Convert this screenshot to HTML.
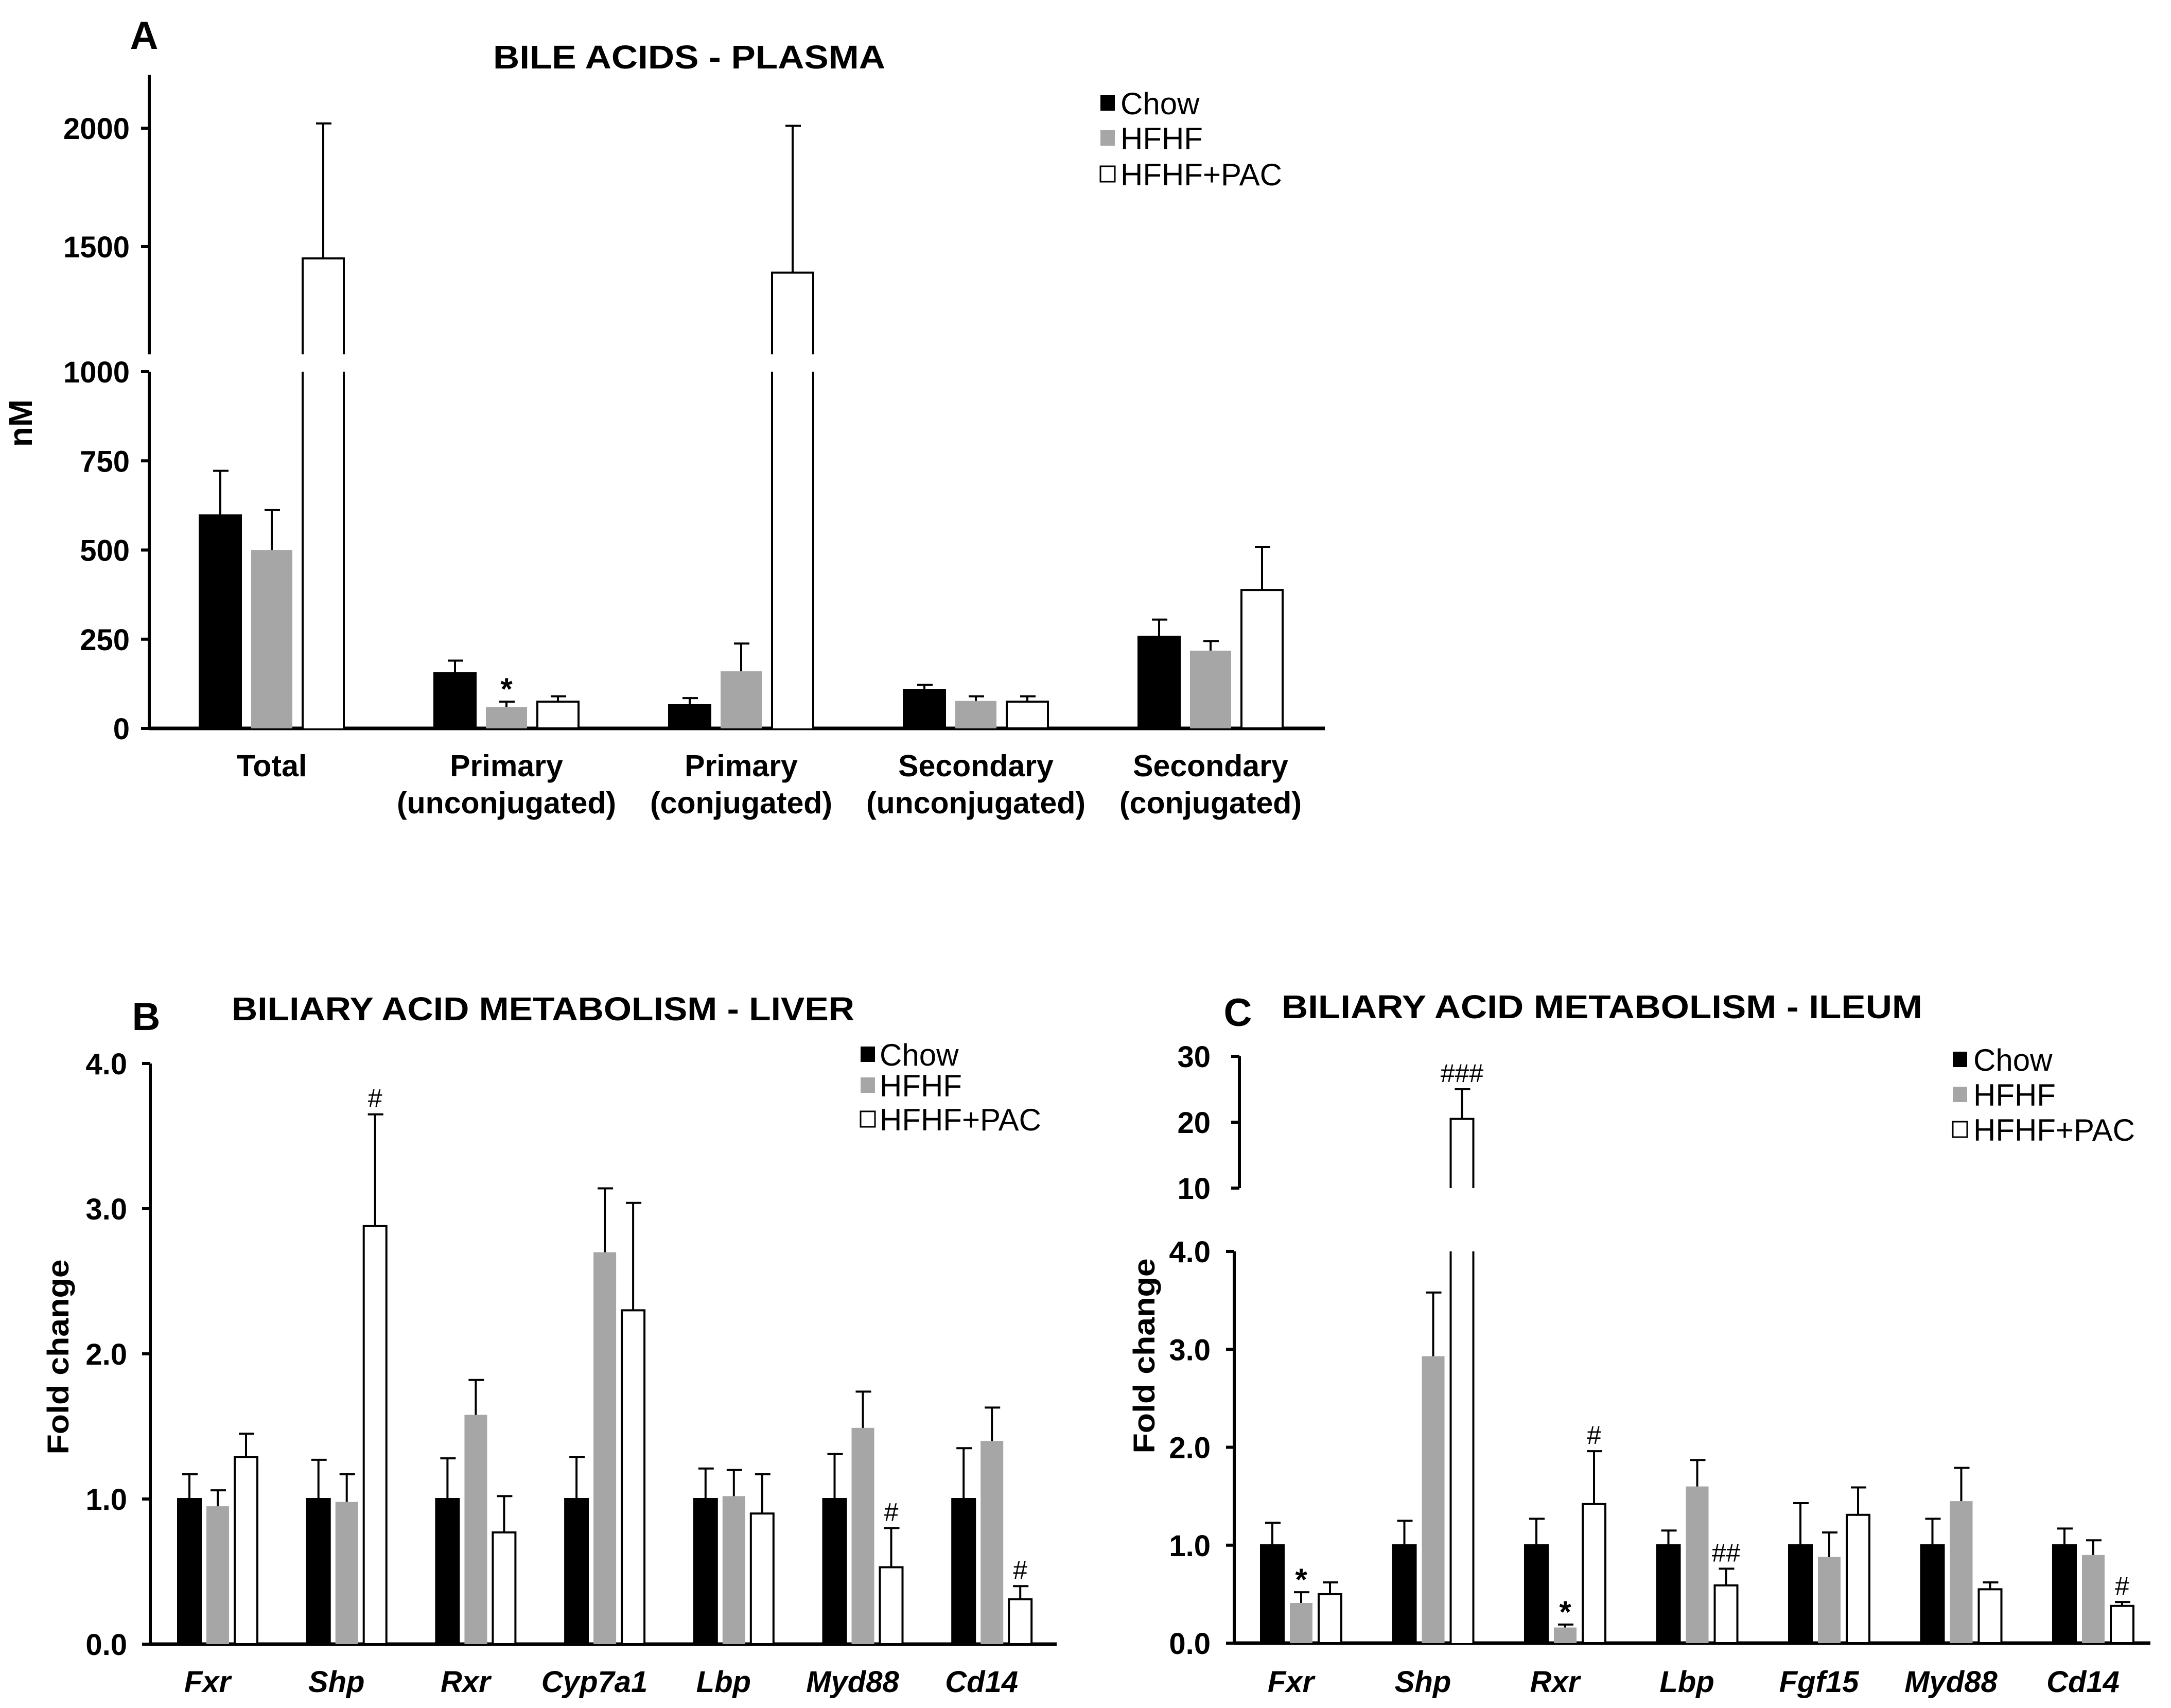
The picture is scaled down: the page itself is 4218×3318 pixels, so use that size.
<!DOCTYPE html>
<html><head><meta charset="utf-8"><style>
html,body{margin:0;padding:0;background:#fff;}
svg{display:block;font-family:"Liberation Sans",Arial,sans-serif;}
</style></head><body>
<svg id="fig" xmlns="http://www.w3.org/2000/svg" width="4218" height="3318" viewBox="0 0 4218 3318"></svg>
<script>
// ---------- Panel A data ----------
const catsA = [["Total"],["Primary","(unconjugated)"],["Primary","(conjugated)"],["Secondary","(unconjugated)"],["Secondary","(conjugated)"]];
const chowA = [597,155,65,108,257];
const chowErrA = [722,190,85,122,305];
const hfhfA = [500,60,160,77,218];
const hfhfErrA = [612,75,238,90,245];
const pacA = [1450,75,1390,75,388];
const pacErrA = [2020,90,2010,90,508];
const ticksALow = [0,250,500,750,1000];
const ticksAHigh = [1500,2000];
const sigA = [{g:1,s:1,t:"*"}];
// ---------- Panel B data ----------
const catsB = ["Fxr","Shp","Rxr","Cyp7a1","Lbp","Myd88","Cd14"];
const chowB = [1,1,1,1,1,1,1];
const chowErrB = [1.17,1.27,1.28,1.29,1.21,1.31,1.35];
const hfhfB = [0.95,0.98,1.58,2.70,1.02,1.49,1.40];
const hfhfErrB = [1.06,1.17,1.82,3.14,1.20,1.74,1.63];
const pacB = [1.29,2.88,0.77,2.30,0.90,0.53,0.31];
const pacErrB = [1.45,3.65,1.02,3.04,1.17,0.80,0.40];
const ticksB = ["0.0","1.0","2.0","3.0","4.0"];
const sigB = [{g:1,s:2,t:"#"},{g:5,s:2,t:"#"},{g:6,s:2,t:"#"}];
// ---------- Panel C data ----------
const catsC = ["Fxr","Shp","Rxr","Lbp","Fgf15","Myd88","Cd14"];
const chowC = [1,1,1,1,1,1,1];
const chowErrC = [1.23,1.25,1.27,1.15,1.43,1.27,1.17];
const hfhfC = [0.41,2.93,0.16,1.60,0.88,1.45,0.90];
const hfhfErrC = [0.52,3.58,0.19,1.87,1.13,1.79,1.05];
const pacC = [0.50,20.5,1.42,0.59,1.31,0.55,0.38];
const pacErrC = [0.62,25,1.96,0.76,1.59,0.62,0.42];
const ticksCLow = ["0.0","1.0","2.0","3.0","4.0"];
const ticksCHigh = [10,20,30];
const sigC = [{g:0,s:1,t:"*"},{g:2,s:1,t:"*"},{g:1,s:2,t:"###"},{g:2,s:2,t:"#"},{g:3,s:2,t:"##"},{g:6,s:2,t:"#"}];
const seriesNames = ["Chow","HFHF","HFHF+PAC"];

const NS="http://www.w3.org/2000/svg";
const svg=document.getElementById('fig');
function mk(tag,attrs,parent,text){
  const e=document.createElementNS(NS,tag);
  for(const k in attrs)e.setAttribute(k,attrs[k]);
  if(text!==undefined)e.textContent=text;
  (parent||svg).appendChild(e);return e;
}
const fills=["#000000","#a6a6a6","#ffffff"];

function drawPanel(P){
  const g=mk('g',{});
  
  
  let t=mk('text',{x:P.letterX,y:P.letterY,'font-size':76,'font-weight':'bold','text-anchor':'middle'},g,P.letter);
  
  t=mk('text',{x:P.titleX,y:P.titleY,'font-size':64,'font-weight':'bold',textLength:P.titleLen,lengthAdjust:'spacingAndGlyphs'},g,P.title);
  
  t=mk('text',{x:0,y:0,'font-size':P.ylabSize,'font-weight':'bold','text-anchor':'middle',transform:`translate(${P.ylabX},${P.ylabY}) rotate(-90)`},g,P.ylab);
  if(P.ylabLen){t.setAttribute('textLength',P.ylabLen);t.setAttribute('lengthAdjust','spacingAndGlyphs');}
  
  const ax=mk('g',{stroke:'#000','stroke-width':6,fill:'none'},g);
  
  mk('line',{x1:P.axisX,y1:P.y(P.lowTop),x2:P.axisX,y2:P.y0},ax);
  P.lowTicks.forEach(v=>{
    const yy=P.y(+v);
    mk('line',{x1:P.axisX-16,y1:yy,x2:P.axisX,y2:yy},ax);
    const tl=mk('text',{x:P.tickLabelX,y:yy+21,'font-size':58,'font-weight':'bold','text-anchor':'end',stroke:'none',fill:'#000'},g,String(v));
    
  });
  if(P.highTicks){
    mk('line',{x1:P.axisXU,y1:P.yU(P.highTop),x2:P.axisXU,y2:P.yU(P.highBottom)},ax);
    P.highTicks.forEach(v=>{
      const yy=P.yU(v);
      mk('line',{x1:P.axisXU-16,y1:yy,x2:P.axisXU,y2:yy},ax);
      const tl=mk('text',{x:P.tickLabelX,y:yy+21,'font-size':58,'font-weight':'bold','text-anchor':'end',stroke:'none',fill:'#000'},g,String(v));
      
    });
  }
  const xa=mk('line',{x1:P.axisX,y1:P.y0,x2:P.axisEnd,y2:P.y0,stroke:'#000','stroke-width':7},g);
  
  const series=[P.s0,P.s1,P.s2], errs=[P.e0,P.e1,P.e2];
  const topOf={};
  P.cats.forEach((c,i)=>{
    const cx=P.gx(i);
    series.forEach((arr,s)=>{
      const v=arr[i], ev=errs[s][i];
      const bx=cx+(s-1)*P.pitch-P.bw/2;
      const bg=mk('g',{},g);
      
      
      const sw=s===1?0:4;
      const broken=P.yU && v>P.breakVal;
      let ytop;
      if(!broken){
        ytop=P.y(v);
        mk('rect',{x:bx,y:ytop,width:P.bw,height:P.y0-ytop,fill:fills[s],stroke:s===1?'none':'#000','stroke-width':sw},bg);
      } else {
        const yl=P.y(P.lowTop);
        mk('rect',{x:bx,y:yl,width:P.bw,height:P.y0-yl,fill:'#fff',stroke:'none'},bg);
        mk('path',{d:`M${bx},${P.y0}V${yl}M${bx+P.bw},${P.y0}V${yl}`,stroke:'#000','stroke-width':4,fill:'none'},bg);
        ytop=P.yU(v);
        const yb=P.yU(P.highBottom);
        mk('path',{d:`M${bx},${yb}V${ytop}H${bx+P.bw}V${yb}`,stroke:'#000','stroke-width':4,fill:'none'},bg);
      }
      const ye=(P.yU && ev>P.breakVal)?P.yU(ev):P.y(ev);
      const ex=bx+P.bw/2;
      const eb=mk('path',{d:`M${ex},${ytop}V${ye}M${ex-14},${ye}H${ex+16}`,stroke:'#000','stroke-width':4,fill:'none'},g);
      
      topOf[i+'_'+s]=[ex,ye];
    });
    const lines=Array.isArray(c)?c:[c];
    lines.forEach((ln,k)=>{
      const tl=mk('text',{x:cx+P.labelDx,y:P.labelY+k*72,'font-size':P.labelSize,'font-weight':'bold','font-style':P.italic?'italic':'normal','text-anchor':'middle'},g,ln);
      
    });
  });
  P.sig.forEach(m=>{
    const [x,y]=topOf[m.g+'_'+m.s];
    const st=m.t==="*";
    const tl=mk('text',{x:x,y:y-(st?4:14),'font-size':st?60:50,'font-weight':st?'bold':'normal','text-anchor':'middle'},g,m.t);
    
  });
  const lg=mk('g',{},g);
  
  seriesNames.forEach((n,s)=>{
    const yy=P.legY[s];
    const e=mk('g',{},lg);
    
    
    mk('rect',{x:P.legX,y:yy-15,width:28,height:30,fill:fills[s],stroke:s===2?'#000':'none','stroke-width':3},e);
    mk('text',{x:P.legTX,y:yy+22,'font-size':60},e,n);
  });
}

const yA0=1415, kA=0.693;
drawPanel({name:'panel-a-plasma',letter:'A',letterX:280,letterY:95,title:'BILE ACIDS - PLASMA',titleX:958,titleY:133,titleLen:762,
  ylab:'nM',ylabX:62,ylabY:822,ylabSize:64,
  axisX:290,axisXU:290,axisEnd:2574,y0:yA0,y:v=>yA0-v*kA,lowTop:1000,lowTicks:ticksALow,
  yU:v=>479-(v-1500)*0.46,highTicks:ticksAHigh,highTop:2225,highBottom:1045,breakVal:1000,
  tickLabelX:252,cats:catsA,gx:i=>528+i*456,pitch:100,bw:80,labelDx:0,labelY:1508,labelSize:59,italic:false,
  s0:chowA,s1:hfhfA,s2:pacA,e0:chowErrA,e1:hfhfErrA,e2:pacErrA,sig:sigA,
  legX:2138,legTX:2177,legY:[200,268,338]});
const yB0=3194, kB=282;
drawPanel({name:'panel-b-liver',letter:'B',letterX:284,letterY:2001,title:'BILIARY ACID METABOLISM - LIVER',titleX:450,titleY:1982,titleLen:1210,
  ylab:'Fold change',ylabX:133,ylabY:2636,ylabSize:58,ylabLen:379,
  axisX:292,axisEnd:2053,y0:yB0,y:v=>yB0-v*kB,lowTop:4,lowTicks:ticksB,
  tickLabelX:247,cats:catsB,gx:i=>423+i*250.7,pitch:55,bw:44,labelDx:-20,labelY:3287,labelSize:58,italic:true,
  s0:chowB,s1:hfhfB,s2:pacB,e0:chowErrB,e1:hfhfErrB,e2:pacErrB,sig:sigB,
  legX:1672,legTX:1709,legY:[2048,2108,2174]});
const yC0=3192, kC=190.25;
drawPanel({name:'panel-c-ileum',letter:'C',letterX:2405,letterY:1993,title:'BILIARY ACID METABOLISM - ILEUM',titleX:2490,titleY:1978,titleLen:1245,
  ylab:'Fold change',ylabX:2243,ylabY:2634,ylabSize:58,ylabLen:379,
  axisX:2398,axisXU:2408,axisEnd:4178,y0:yC0,y:v=>yC0-v*kC,lowTop:4,lowTicks:ticksCLow,
  yU:v=>2308-(v-10)*12.8,highTicks:ticksCHigh,highTop:30,highBottom:10,breakVal:4,
  tickLabelX:2352,cats:catsC,gx:i=>2528+i*256.5,pitch:56,bw:44,labelDx:-20,labelY:3287,labelSize:58,italic:true,
  s0:chowC,s1:hfhfC,s2:pacC,e0:chowErrC,e1:hfhfErrC,e2:pacErrC,sig:sigC,
  legX:3794,legTX:3834,legY:[2058,2126,2194]});
</script>
</body></html>
